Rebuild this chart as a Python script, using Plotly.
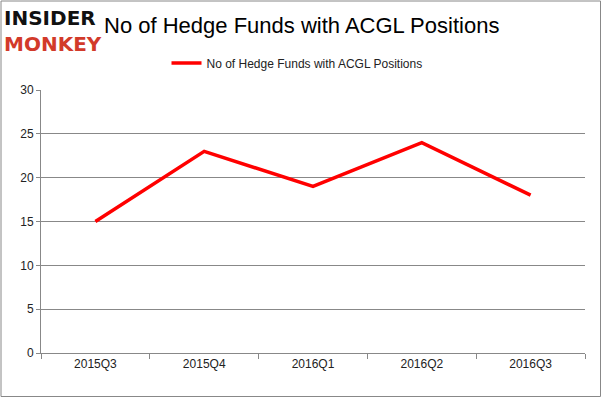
import plotly.graph_objects as go

categories = ["2015Q3", "2015Q4", "2016Q1", "2016Q2", "2016Q3"]
values = [15, 23, 19, 24, 18]
series_name = "No of Hedge Funds with ACGL Positions"
y_ticks = [0, 5, 10, 15, 20, 25, 30]

L, R, T, B = 41, 17, 90, 45
W, H = 602, 398
pw, ph = W - L - R, H - T - B

def px_x(x):
    return (x - L) / pw

def px_y(y):
    return (H - B - y) / ph

fig = go.Figure()
fig.add_trace(go.Scatter(
    x=categories, y=values, mode="lines", name=series_name,
    line=dict(color="#ff0000", width=3.5),
))

fig.update_layout(
    width=W, height=H,
    margin=dict(l=L, r=R, t=T, b=B),
    paper_bgcolor="white", plot_bgcolor="white",
    font=dict(family="Liberation Sans, Arial, sans-serif", size=12, color="#222"),
    showlegend=True,
    legend=dict(orientation="h", x=px_x(297), xanchor="center", y=px_y(63), yanchor="middle",
                font=dict(size=12, color="#222"), bgcolor="rgba(0,0,0,0)",
                itemwidth=30),
    xaxis=dict(type="category", range=[-0.5, 4.5], showgrid=False,
               showline=True, linecolor="#888", linewidth=1,
               ticks="outside", tickson="boundaries", ticklen=5, tickcolor="#888",
               tickfont=dict(size=12, color="#222"), fixedrange=True),
    yaxis=dict(range=[0, 30], tickvals=y_ticks, showgrid=True, gridcolor="#888", gridwidth=1,
               showline=True, linecolor="#888", linewidth=1,
               ticks="outside", ticklen=4, tickcolor="#888", zeroline=False,
               tickfont=dict(size=12, color="#222"), fixedrange=True),
    shapes=[dict(type="rect", xref="paper", yref="paper",
                 x0=px_x(1), x1=px_x(600.5), y0=px_y(396.5), y1=px_y(1),
                 line=dict(color="#888", width=1), fillcolor="rgba(0,0,0,0)", layer="below")],
    annotations=[
        dict(text=series_name, xref="paper", yref="paper",
             x=px_x(301), y=px_y(26), xanchor="center", yanchor="middle", showarrow=False,
             font=dict(size=22, color="#000", family="Liberation Sans, Arial, sans-serif")),
        dict(text="<b>INSIDER</b>", xref="paper", yref="paper",
             x=px_x(3), y=px_y(31), xanchor="left", yanchor="bottom", showarrow=False,
             borderpad=0,
             font=dict(size=20, color="#111", family="DejaVu Sans, sans-serif")),
        dict(text="<b>MONKEY</b>", xref="paper", yref="paper",
             x=px_x(3), y=px_y(31), xanchor="left", yanchor="top", showarrow=False,
             borderpad=0,
             font=dict(size=20, color="#d23a2a", family="DejaVu Sans, sans-serif")),
    ],
)

fig.write_html("out.html", config={"displayModeBar": False, "staticPlot": True})
with open("out.html", "r", encoding="utf-8") as f:
    html = f.read()
html = html.replace("<body>", '<body style="margin:0;padding:0;">', 1)
html = html.replace("<head>", "<head><style>html,body{margin:0;padding:0;overflow:hidden;}</style>", 1)
with open("out.html", "w", encoding="utf-8") as f:
    f.write(html)
